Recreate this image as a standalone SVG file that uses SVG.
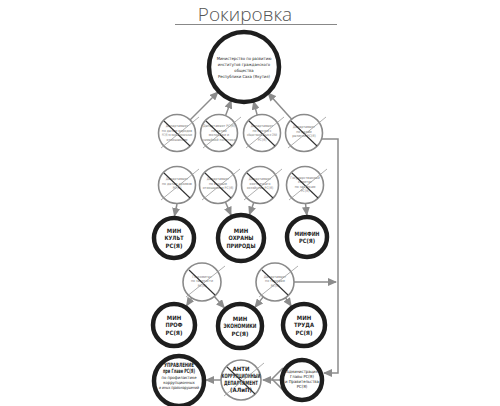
<svg xmlns="http://www.w3.org/2000/svg" width="500" height="406" viewBox="0 0 500 406">
<style>
.thick{fill:#fff;stroke:#1e1e1e;stroke-width:4.5}
.cross{fill:#fff;stroke:#8a8a8a;stroke-width:1.6}
.xd{stroke:#333;stroke-width:1.1}
.xl{stroke:#9a9a9a;stroke-width:0.8}
.con{fill:none;stroke:#8c8c8c;stroke-width:1.5}
.t{font-family:'Liberation Sans Narrow','DejaVu Sans Condensed','Liberation Sans',sans-serif;text-anchor:middle}
.b{font-weight:bold;fill:#1e1e1e;font-size:6px}
.s{fill:#222;font-size:4.2px}
.g{fill:#7a7a7a;font-size:3.5px}
</style>
<defs>
<marker id="ah" markerUnits="userSpaceOnUse" markerWidth="9" markerHeight="8" refX="8" refY="4" orient="auto">
<path d="M0,0 L9,4 L0,8 z" fill="#8c8c8c"/>
</marker>
</defs>
<rect width="500" height="406" fill="#fff"/>
<text x="245" y="20.5" font-family="'Open Sans','Liberation Sans',sans-serif" font-weight="300" font-size="19" fill="#555" text-anchor="middle">Рокировка</text>
<line x1="175" y1="24.5" x2="337" y2="24.5" stroke="#888" stroke-width="1"/>

<g id="connectors">
<line class="con" x1="190" y1="120" x2="218" y2="92" marker-end="url(#ah)"/>
<line class="con" x1="225.5" y1="115.7" x2="231.2" y2="100.5" marker-end="url(#ah)"/>
<line class="con" x1="257.2" y1="115.1" x2="253.6" y2="101.5" marker-end="url(#ah)"/>
<line class="con" x1="291.7" y1="119.2" x2="268" y2="93" marker-end="url(#ah)"/>
<line class="con" x1="177" y1="204" x2="174.5" y2="216" marker-end="url(#ah)"/>
<line class="con" x1="225.4" y1="202" x2="231" y2="215" marker-end="url(#ah)"/>
<line class="con" x1="253.8" y1="202.4" x2="249.4" y2="214.5" marker-end="url(#ah)"/>
<line class="con" x1="305.5" y1="203.5" x2="306.8" y2="215" marker-end="url(#ah)"/>
<line class="con" x1="191.6" y1="297.9" x2="186.6" y2="305.7" marker-end="url(#ah)"/>
<line class="con" x1="214.4" y1="296.4" x2="224.3" y2="307.8" marker-end="url(#ah)"/>
<line class="con" x1="263.2" y1="296.9" x2="255" y2="307.2" marker-end="url(#ah)"/>
<line class="con" x1="285.6" y1="297.8" x2="291.2" y2="306" marker-end="url(#ah)"/>
<line class="con" x1="294" y1="282" x2="336" y2="282" marker-end="url(#ah)"/>
<polyline class="con" points="321.5,139 338,139 338,373 324,373" marker-end="url(#ah)"/>
<line class="con" x1="282" y1="380" x2="263" y2="380" marker-end="url(#ah)"/>
<polyline class="con" points="283,368 272,379 283,390"/>
<line class="con" x1="221" y1="380" x2="206" y2="380" marker-end="url(#ah)"/>
</g>

<g id="n-top">
<circle class="thick" cx="244" cy="67" r="35"/>
<text class="t s" x="244" y="59.5">Министерство по развитию</text>
<text class="t s" x="244" y="65.5">институтов гражданского</text>
<text class="t s" x="244" y="71.5">общества</text>
<text class="t s" x="244" y="77.5">Республики Саха (Якутия)</text>
</g>

<g id="n-r1c1">
<circle class="cross" cx="177" cy="133" r="18.5"/>
<text class="t g" x="177" y="127">Департамент</text>
<text class="t g" x="177" y="131.5">по делам народов</text>
<text class="t g" x="177" y="136" textLength="30" lengthAdjust="spacingAndGlyphs">РС(Я) по межнациональным</text>
<text class="t g" x="177" y="140.5">отношениям</text>
<line class="xd" x1="164" y1="121" x2="190" y2="146"/>
<line class="xl" x1="161" y1="148" x2="199" y2="117"/>
</g>
<g id="n-r1c2">
<circle class="cross" cx="219" cy="133" r="18.5"/>
<text class="t g" x="219" y="127">Департамент РС(Я)</text>
<text class="t g" x="219" y="131.5">по делам</text>
<text class="t g" x="219" y="136">молодёжи и</text>
<text class="t g" x="219" y="140.5">семейной политики</text>
<line class="xd" x1="206" y1="121" x2="232" y2="146"/>
<line class="xl" x1="203" y1="148" x2="241" y2="117"/>
</g>
<g id="n-r1c3">
<circle class="cross" cx="262" cy="133" r="18.5"/>
<text class="t g" x="262" y="127">Департамент</text>
<text class="t g" x="262" y="131.5">по связям с</text>
<text class="t g" x="262" y="136" textLength="30" lengthAdjust="spacingAndGlyphs">общественностью и СМИ</text>
<text class="t g" x="262" y="140.5">РС(Я)</text>
<line class="xd" x1="249" y1="121" x2="275" y2="146"/>
<line class="xl" x1="246" y1="148" x2="284" y2="117"/>
</g>
<g id="n-r1c4">
<circle class="cross" cx="304" cy="133" r="18.5"/>
<text class="t g" x="304" y="128">Департамент</text>
<text class="t g" x="304" y="132.5">по делам</text>
<text class="t g" x="304" y="137">религий РС(Я)</text>
<line class="xd" x1="291" y1="121" x2="317" y2="146"/>
<line class="xl" x1="288" y1="148" x2="326" y2="117"/>
</g>

<g id="n-r2c1">
<circle class="cross" cx="177" cy="185" r="18.5"/>
<text class="t g" x="177" y="180">Департамент</text>
<text class="t g" x="177" y="184.5">по делам архивов</text>
<text class="t g" x="177" y="189">РС(Я)</text>
<line class="xd" x1="164" y1="173" x2="190" y2="198"/>
<line class="xl" x1="161" y1="200" x2="199" y2="169"/>
</g>
<g id="n-r2c2">
<circle class="cross" cx="218" cy="185" r="18.5"/>
<text class="t g" x="218" y="180">Департамент</text>
<text class="t g" x="218" y="184.5">по водным</text>
<text class="t g" x="218" y="189">отношениям РС(Я)</text>
<line class="xd" x1="205" y1="173" x2="231" y2="198"/>
<line class="xl" x1="202" y1="200" x2="240" y2="169"/>
</g>
<g id="n-r2c3">
<circle class="cross" cx="260" cy="185" r="18.5"/>
<text class="t g" x="260" y="180">Департамент</text>
<text class="t g" x="260" y="184.5">охотничьего</text>
<text class="t g" x="260" y="189">хозяйства РС(Я)</text>
<line class="xd" x1="247" y1="173" x2="273" y2="198"/>
<line class="xl" x1="244" y1="200" x2="282" y2="169"/>
</g>
<g id="n-r2c4">
<circle class="cross" cx="305" cy="185" r="18.5"/>
<text class="t g" x="305" y="178.5">Государственный</text>
<text class="t g" x="305" y="183">комитет</text>
<text class="t g" x="305" y="187.5">по закупкам</text>
<text class="t g" x="305" y="192">РС(Я)</text>
<line class="xd" x1="292" y1="173" x2="318" y2="198"/>
<line class="xl" x1="289" y1="200" x2="327" y2="169"/>
</g>

<g id="n-kult">
<circle class="thick" cx="174" cy="238" r="20"/>
<text class="t b" x="174" y="233">МИН</text>
<text class="t b" x="174" y="240.3" textLength="19" lengthAdjust="spacingAndGlyphs">КУЛЬТ</text>
<text class="t b" x="174" y="247.6" textLength="17" lengthAdjust="spacingAndGlyphs">РС(Я)</text>
</g>
<g id="n-ohrana">
<circle class="thick" cx="241" cy="238" r="23"/>
<text class="t b" x="241" y="233">МИН</text>
<text class="t b" x="241" y="240.3" textLength="25" lengthAdjust="spacingAndGlyphs">ОХРАНЫ</text>
<text class="t b" x="241" y="247.6" textLength="29" lengthAdjust="spacingAndGlyphs">ПРИРОДЫ</text>
</g>
<g id="n-minfin">
<circle class="thick" cx="307" cy="237" r="20"/>
<text class="t b" x="307" y="236" textLength="25" lengthAdjust="spacingAndGlyphs">МИНФИН</text>
<text class="t b" x="307" y="243.3" textLength="16" lengthAdjust="spacingAndGlyphs">РС(Я)</text>
</g>

<g id="n-r4c1">
<circle class="cross" cx="202" cy="282" r="19"/>
<text class="t g" x="202" y="277.5">Госкомитет</text>
<text class="t g" x="202" y="282">по занятости</text>
<text class="t g" x="202" y="286.5">РС(Я)</text>
<line class="xd" x1="189" y1="270" x2="215" y2="295"/>
<line class="xl" x1="186" y1="297" x2="225" y2="266"/>
</g>
<g id="n-r4c2">
<circle class="cross" cx="275" cy="282" r="19"/>
<text class="t g" x="275" y="277.5">Департамент</text>
<text class="t g" x="275" y="282">по тарифам</text>
<text class="t g" x="275" y="286.5">РС(Я)</text>
<line class="xd" x1="262" y1="270" x2="288" y2="295"/>
<line class="xl" x1="259" y1="297" x2="298" y2="266"/>
</g>

<g id="n-prof">
<circle class="thick" cx="174" cy="325" r="21"/>
<text class="t b" x="174" y="320">МИН</text>
<text class="t b" x="174" y="327.3" textLength="17" lengthAdjust="spacingAndGlyphs">ПРОФ</text>
<text class="t b" x="174" y="334.6" textLength="17" lengthAdjust="spacingAndGlyphs">РС(Я)</text>
</g>
<g id="n-econ">
<circle class="thick" cx="240" cy="326" r="22"/>
<text class="t b" x="240" y="321">МИН</text>
<text class="t b" x="240" y="328.3" textLength="33" lengthAdjust="spacingAndGlyphs">ЭКОНОМИКИ</text>
<text class="t b" x="240" y="335.6" textLength="17" lengthAdjust="spacingAndGlyphs">РС(Я)</text>
</g>
<g id="n-trud">
<circle class="thick" cx="304" cy="325" r="21"/>
<text class="t b" x="304" y="320">МИН</text>
<text class="t b" x="304" y="327.3" textLength="20" lengthAdjust="spacingAndGlyphs">ТРУДА</text>
<text class="t b" x="304" y="334.6" textLength="17" lengthAdjust="spacingAndGlyphs">РС(Я)</text>
</g>

<g id="n-upr">
<circle class="thick" cx="179" cy="381" r="25"/>
<text class="t b" x="179" y="367" font-size="5.2" textLength="30" lengthAdjust="spacingAndGlyphs">УПРАВЛЕНИЕ</text>
<text class="t b" x="179" y="373" font-size="4.8" textLength="32" lengthAdjust="spacingAndGlyphs">при Главе РС(Я)</text>
<text class="t s" x="179" y="378.5" font-size="3.6">по профилактике</text>
<text class="t s" x="179" y="383.5" font-size="3.6">коррупционных</text>
<text class="t s" x="179" y="388.5" font-size="3.6" textLength="40" lengthAdjust="spacingAndGlyphs">и иных правонарушений</text>
</g>
<g id="n-anti">
<circle class="cross" cx="241" cy="380" r="20"/>
<text class="t b" x="241" y="370.5" font-size="5.6">АНТИ</text>
<text class="t b" x="241" y="377.5" font-size="5.6" textLength="39" lengthAdjust="spacingAndGlyphs">КОРРУПЦИОННЫЙ</text>
<text class="t b" x="241" y="384.5" font-size="5.6" textLength="34" lengthAdjust="spacingAndGlyphs">ДЕПАРТАМЕНТ</text>
<text class="t b" x="241" y="391.5" font-size="4.8">(АЛиП)</text>
<line class="xd" x1="227" y1="367" x2="255" y2="394"/>
<line class="xl" x1="224" y1="396" x2="264" y2="363"/>
</g>
<g id="n-admin">
<circle class="thick" cx="302" cy="380" r="20"/>
<text class="t s" x="302" y="373" font-size="3.7">Администрация</text>
<text class="t s" x="302" y="378" font-size="3.7">Главы РС(Я)</text>
<text class="t s" x="302" y="383" font-size="3.7">и Правительства</text>
<text class="t s" x="302" y="388" font-size="3.7">РС(Я)</text>
</g>
</svg>
